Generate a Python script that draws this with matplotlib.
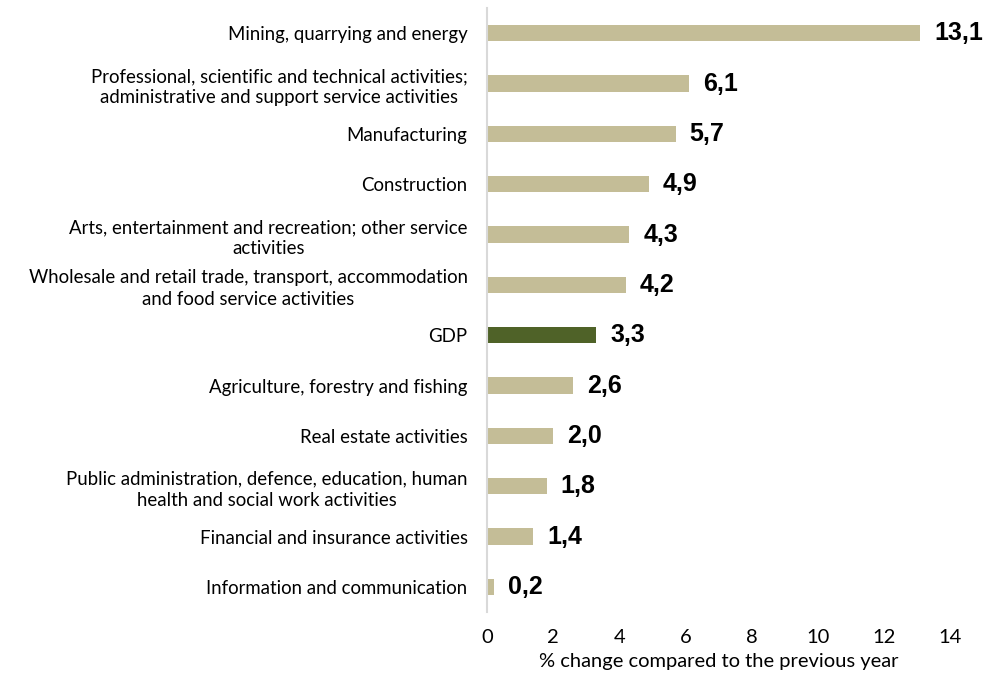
import matplotlib.pyplot as plt

# --- DATA ---
categories = [
    "Mining, quarrying and energy",
    "Professional, scientific and technical activities;\nadministrative and support service activities",
    "Manufacturing",
    "Construction",
    "Arts, entertainment and recreation; other service\nactivities",
    "Wholesale and retail trade, transport, accommodation\nand food service activities",
    "GDP",
    "Agriculture, forestry and fishing",
    "Real estate activities",
    "Public administration, defence, education, human\nhealth and social work activities",
    "Financial and insurance activities",
    "Information and communication",
]
values = [13.1, 6.1, 5.7, 4.9, 4.3, 4.2, 3.3, 2.6, 2.0, 1.8, 1.4, 0.2]
x_ticks = [0, 2, 4, 6, 8, 10, 12, 14]

# --- PLOT ---
plt.rcParams['font.family'] = ['Lato', 'DejaVu Sans']

fig = plt.figure(figsize=(10.03, 6.78), dpi=100)
ax = fig.add_axes([0.4856, 0.0973, 0.4616, 0.8909])

tan = '#C4BD97'
olive = '#4F6228'
colors = [olive if c == "GDP" else tan for c in categories]

pos = list(range(len(categories)))
ax.barh(pos, values, height=0.32, color=colors)
ax.set_ylim(len(categories) - 0.5, -0.5)
ax.set_xlim(0, 14)

ax.set_yticks(pos)
ax.set_yticklabels(categories, fontsize=13.4, multialignment='center', linespacing=1.3)
ax.set_xticks(x_ticks)
ax.set_xticklabels([str(t) for t in x_ticks], fontsize=14.5)
ax.tick_params(axis='y', length=0, pad=14)
ax.tick_params(axis='x', length=0, pad=12)
ax.set_xlabel("% change compared to the previous year", fontsize=14.5, labelpad=5)

for s in ['top', 'right', 'bottom']:
    ax.spines[s].set_visible(False)
ax.spines['left'].set_color('#D9D9D9')
ax.spines['left'].set_linewidth(1.5)

# etiquetas de valor com vírgula decimal
for y, v in zip(pos, values):
    ax.annotate(f"{v:.1f}".replace('.', ','), xy=(v, y), xytext=(10, 0),
                textcoords='offset points', va='center', ha='left',
                fontsize=18, fontweight='bold', family='Liberation Sans')

fig.savefig("out.png", dpi=100)
